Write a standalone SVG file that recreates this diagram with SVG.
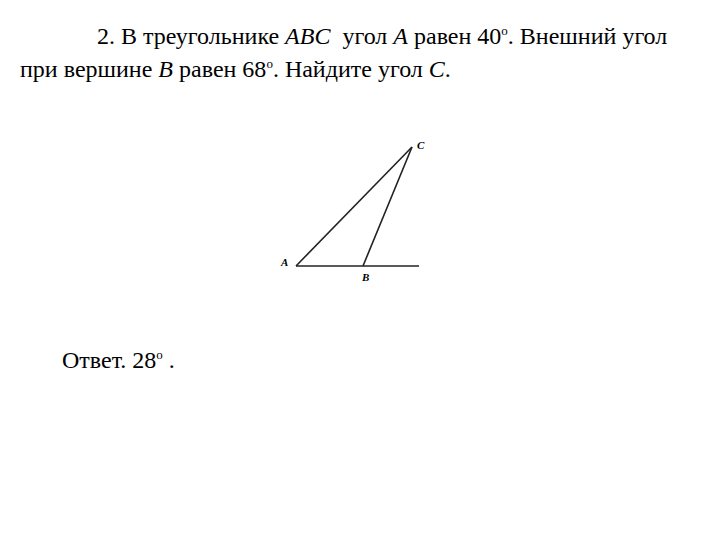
<svg xmlns="http://www.w3.org/2000/svg" width="720" height="540" viewBox="0 0 720 540">
<style>
.t{font-family:'Liberation Serif','DejaVu Serif',serif;font-size:24px;fill:#000;white-space:pre}
.i{font-style:italic}
.sup{font-size:13px}
.lbl{font-family:'Liberation Serif','DejaVu Serif',serif;font-size:11px;font-style:italic;font-weight:bold;fill:#000}
.ln{stroke:#222;stroke-width:1.6;fill:none}
</style>
<rect width="720" height="540" fill="#fff"/>
<g id="problem">
<text class="t" x="97" y="44" xml:space="preserve">2. В треугольнике <tspan class="i">ABC</tspan>  угол <tspan class="i">A</tspan> равен 40<tspan class="sup" dy="-9">o</tspan><tspan dy="9">. Внешний угол</tspan></text>
<text class="t" x="20" y="77">при вершине <tspan class="i">B</tspan> равен 68<tspan class="sup" dy="-9">o</tspan><tspan dy="9">. Найдите угол </tspan><tspan class="i">C</tspan>.</text>
</g>
<g id="connectors">
<line class="ln" x1="296" y1="266" x2="419" y2="266"/>
<line class="ln" x1="296" y1="266" x2="412" y2="147"/>
<line class="ln" x1="363" y1="266" x2="412" y2="147"/>
</g>
<g id="A"><text class="lbl" x="281" y="266">A</text></g>
<g id="B"><text class="lbl" x="362" y="281">B</text></g>
<g id="C"><text class="lbl" x="417" y="149">C</text></g>
<g id="answer">
<text class="t" x="62" y="368">Ответ. 28<tspan class="sup" dy="-9">o</tspan><tspan dy="9"> .</tspan></text>
</g>
</svg>
